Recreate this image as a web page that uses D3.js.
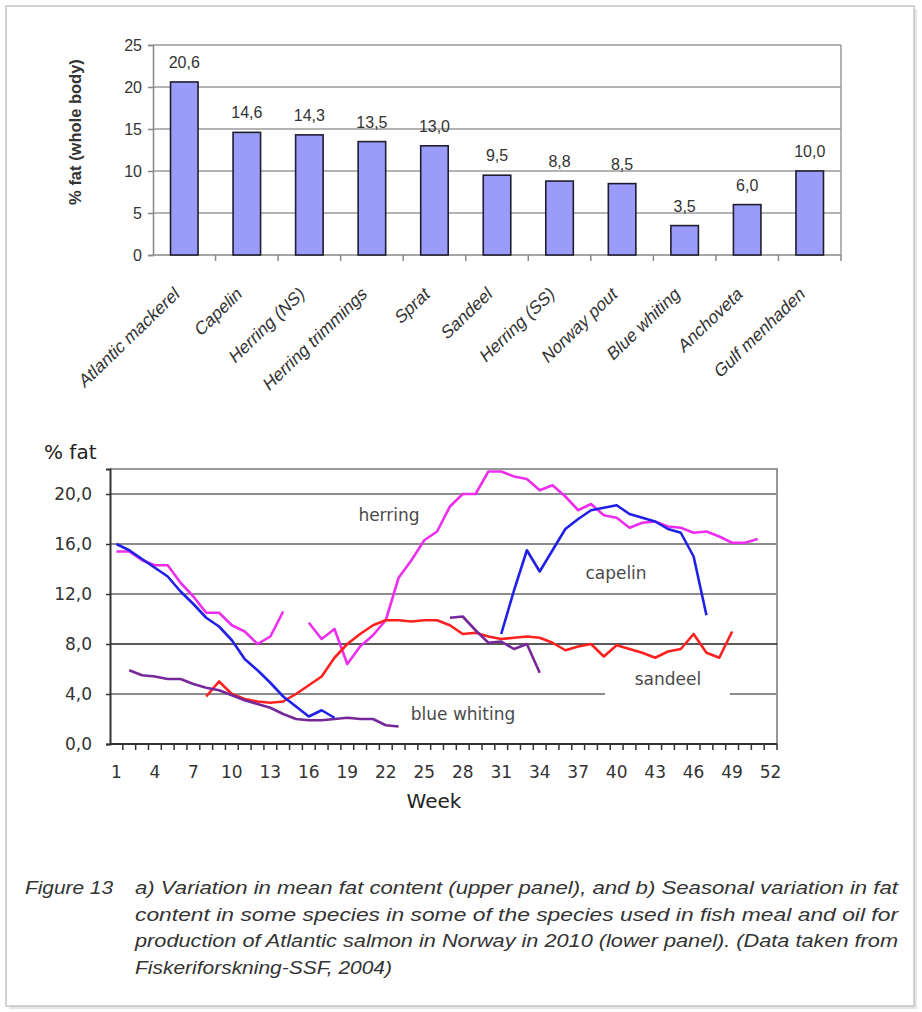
<!DOCTYPE html>
<html>
<head>
<meta charset="utf-8">
<script src="https://cdn.jsdelivr.net/npm/d3@7"></script>
<style>
  body { margin: 0; background: #fff; }
  svg { display: block; }
</style>
</head>
<body>
<div id="vis-container"></div>
<script>
// upper panel: mean fat content per species
const fishNames = ["Atlantic mackerel", "Capelin", "Herring (NS)", "Herring trimmings", "Sprat",
  "Sandeel", "Herring (SS)", "Norway pout", "Blue whiting", "Anchoveta", "Gulf menhaden"];
const fishFat = [20.6, 14.6, 14.3, 13.5, 13.0, 9.5, 8.8, 8.5, 3.5, 6.0, 10.0];
const fatTicks = [0, 5, 10, 15, 20, 25];

// lower panel: weekly fat content, null = no sample that week
const weeks = d3.range(1, 53);
const weekTicks = [1, 4, 7, 10, 13, 16, 19, 22, 25, 28, 31, 34, 37, 40, 43, 46, 49, 52];
const pctTicks = [0, 4, 8, 12, 16, 20];

const herring = [15.4, 15.4, 14.7, 14.3, 14.3, 12.9, 11.8, 10.5, 10.5, 9.5, 9.0, 8.0, 8.6, 10.6, null,
  9.7, 8.4, 9.2, 6.4, 7.8, 8.7, 9.9, 13.3, 14.7, 16.3, 17.0, 19.0, 20.0, 20.0, 21.8, 21.8, 21.4, 21.2,
  20.3, 20.7, 19.8, 18.7, 19.2, 18.3, 18.1, 17.3, 17.7, 17.8, 17.4, 17.3, 16.9, 17.0, 16.6, 16.1, 16.1, 16.4, null];
const capelin = [16.0, 15.5, 14.8, 14.1, 13.4, 12.2, 11.2, 10.1, 9.4, 8.3, 6.8, 5.9, 4.9, 3.8, 3.0, 2.2, 2.7, 2.1,
  null, null, null, null, null, null, null, null, null, null, null, null,
  8.8, 12.3, 15.5, 13.8, 15.5, 17.2, 18.0, 18.7, 18.9, 19.1, 18.4, 18.1, 17.8, 17.2, 16.9, 15.0, 10.3,
  null, null, null, null, null];
const sandeel = [null, null, null, null, null, null, null, 3.8, 5.0, 4.0, 3.6, 3.4, 3.3, 3.4, 4.0, 4.7, 5.4, 6.9,
  8.0, 8.8, 9.5, 9.9, 9.9, 9.8, 9.9, 9.9, 9.5, 8.8, 8.9, 8.6, 8.4, 8.5, 8.6, 8.5, 8.1, 7.5, 7.8, 8.0, 7.0,
  7.9, 7.6, 7.3, 6.9, 7.4, 7.6, 8.8, 7.3, 6.9, 9.0, null, null, null];
const blueWhiting = [null, 5.9, 5.5, 5.4, 5.2, 5.2, 4.8, 4.5, 4.3, 3.9, 3.5, 3.2, 2.9, 2.4, 2.0, 1.9, 1.9, 2.0,
  2.1, 2.0, 2.0, 1.5, 1.4, null, null, null, 10.1, 10.2, 9.1, 8.1, 8.2, 7.6, 8.0, 5.7,
  null, null, null, null, null, null, null, null, null, null, null, null, null, null, null, null, null, null];

const seriesNames = ["herring", "sandeel", "blue whiting", "capelin"];
const seriesValues = [herring, sandeel, blueWhiting, capelin];
const seriesColors = ["#ee2eee", "#ff2020", "#76289a", "#2020e8"];

const captionLines = [
  "a) Variation in mean fat content (upper panel), and b) Seasonal variation in fat",
  "content in some species in some of the species used in fish meal and oil  for",
  "production of Atlantic salmon in Norway  in 2010 (lower panel). (Data taken from",
  "Fiskeriforskning-SSF, 2004)"
];

const W = 922, H = 1012;
const fmt = d3.format(".1f");
const comma = v => fmt(v).replace(".", ",");

let svg = d3.select("#vis-container")
  .append("svg")
  .attr("width", W)
  .attr("height", H);

// page frame with a faint drop shadow
svg.append("rect")
  .attr("x", 9).attr("y", 9)
  .attr("width", 908).attr("height", 1000)
  .attr("fill", "#e6e6e6");
svg.append("rect")
  .attr("x", 6).attr("y", 6)
  .attr("width", 908).attr("height", 1000)
  .attr("fill", "#fff")
  .attr("stroke", "#c4c4c4")
  .attr("stroke-width", 1.5);

// ---------- upper panel ----------
let upper = {left: 153, right: 841, top: 45, bottom: 255};

let xBar = d3.scaleBand()
  .domain(fishNames)
  .range([upper.left, upper.right]);

let yBar = d3.scaleLinear()
  .domain([0, 25])
  .range([upper.bottom, upper.top]);

let g1 = svg.append("g");

// gridlines
g1.selectAll(".grid")
  .data(fatTicks.slice(1))
  .enter()
  .append("line")
    .attr("x1", upper.left).attr("x2", upper.right)
    .attr("y1", d => yBar(d)).attr("y2", d => yBar(d))
    .attr("stroke", "#9a9a9a")
    .attr("stroke-width", 1.5);

g1.append("line")
  .attr("x1", upper.right).attr("x2", upper.right)
  .attr("y1", upper.top).attr("y2", upper.bottom)
  .attr("stroke", "#9a9a9a")
  .attr("stroke-width", 1.5);

// y axis
let yAx1 = g1.append("g")
  .attr("transform", `translate(${upper.left},0)`)
  .call(d3.axisLeft(yBar).tickValues(fatTicks).tickSize(5).tickPadding(6).tickFormat(d3.format("d")));
yAx1.select(".domain").attr("stroke", "#888").attr("stroke-width", 1.5);
yAx1.selectAll(".tick line").attr("stroke", "#888").attr("stroke-width", 1.5);
yAx1.selectAll("text")
  .attr("font-family", "Liberation Sans, Arial, sans-serif")
  .attr("font-size", 16)
  .attr("fill", "#333");

// x axis, ticks between categories
g1.append("line")
  .attr("x1", upper.left).attr("x2", upper.right)
  .attr("y1", upper.bottom).attr("y2", upper.bottom)
  .attr("stroke", "#888")
  .attr("stroke-width", 1.5);
g1.selectAll(".xtick")
  .data(fishNames)
  .enter()
  .append("line")
    .attr("x1", d => xBar(d) + xBar.bandwidth()).attr("x2", d => xBar(d) + xBar.bandwidth())
    .attr("y1", upper.bottom).attr("y2", upper.bottom + 6)
    .attr("stroke", "#888")
    .attr("stroke-width", 1.5);

// bars
let barW = xBar.bandwidth() * 0.44;
g1.selectAll(".bar")
  .data(fishNames)
  .enter()
  .append("rect")
    .attr("x", d => xBar(d) + (xBar.bandwidth() - barW) / 2)
    .attr("y", (d, i) => yBar(fishFat[i]))
    .attr("width", barW)
    .attr("height", (d, i) => upper.bottom - yBar(fishFat[i]))
    .attr("fill", "#9b9bfa")
    .attr("stroke", "#1e1e2e")
    .attr("stroke-width", 1.6);

// value labels
g1.selectAll(".val")
  .data(fishNames)
  .enter()
  .append("text")
    .attr("x", d => xBar(d) + xBar.bandwidth() / 2)
    .attr("y", (d, i) => yBar(fishFat[i]) - 14)
    .attr("text-anchor", "middle")
    .attr("font-family", "Liberation Sans, Arial, sans-serif")
    .attr("font-size", 16)
    .attr("fill", "#333")
    .text((d, i) => comma(fishFat[i]));

// rotated category labels
g1.selectAll(".cat")
  .data(fishNames)
  .enter()
  .append("text")
    .attr("transform", d => `translate(${xBar(d) + xBar.bandwidth() / 2 - 4},${upper.bottom + 41}) rotate(-44) skewX(-12)`)
    .attr("text-anchor", "end")
    .attr("font-family", "Liberation Sans, Arial, sans-serif")
    .attr("font-size", 17.5)
    .attr("fill", "#333")
    .text(d => d);

g1.append("text")
  .attr("transform", `translate(81,132) rotate(-90)`)
  .attr("text-anchor", "middle")
  .attr("font-family", "Liberation Sans, Arial, sans-serif")
  .attr("font-size", 16.5)
  .attr("font-weight", "bold")
  .attr("fill", "#333")
  .text("% fat (whole body)");

// ---------- lower panel ----------
let lower = {left: 110, right: 777, top: 469, bottom: 744};

let xWeek = d3.scalePoint()
  .domain(weeks)
  .range([lower.left, lower.right])
  .padding(0.5);
let step = xWeek.step();

let yPct = d3.scaleLinear()
  .domain([0, 22])
  .range([lower.bottom, lower.top]);

let g2 = svg.append("g");

// plot frame (top + right)
g2.append("path")
  .attr("d", `M${lower.left},${lower.top}H${lower.right}V${lower.bottom}`)
  .attr("fill", "none")
  .attr("stroke", "#999")
  .attr("stroke-width", 2);

g2.selectAll(".grid")
  .data(pctTicks.slice(1))
  .enter()
  .append("line")
    .attr("x1", lower.left).attr("x2", lower.right)
    .attr("y1", d => yPct(d)).attr("y2", d => yPct(d))
    .attr("stroke", d => d === 8 ? "#222" : "#8c8c8c")
    .attr("stroke-width", d => d === 8 ? 1.5 : 2);

// y axis
let yAx2 = g2.append("g")
  .attr("transform", `translate(${lower.left},0)`)
  .call(d3.axisLeft(yPct).tickValues(pctTicks).tickSize(4).tickPadding(14).tickFormat(comma));
yAx2.select(".domain").attr("stroke", "#333").attr("stroke-width", 2);
yAx2.selectAll(".tick line").attr("stroke", "#333").attr("stroke-width", 1.5);
yAx2.selectAll("text")
  .attr("font-family", "DejaVu Sans, sans-serif")
  .attr("font-size", 17)
  .attr("fill", "#333");

// x axis: a tick at every week boundary, label every third week
let xAx = g2.append("g");
xAx.append("line")
  .attr("x1", lower.left).attr("x2", lower.right)
  .attr("y1", lower.bottom).attr("y2", lower.bottom)
  .attr("stroke", "#333")
  .attr("stroke-width", 2);
xAx.selectAll(".wtick")
  .data(weeks)
  .enter()
  .append("line")
    .attr("x1", d => xWeek(d) + step / 2).attr("x2", d => xWeek(d) + step / 2)
    .attr("y1", lower.bottom).attr("y2", lower.bottom + 6)
    .attr("stroke", "#333")
    .attr("stroke-width", 1.5);
xAx.selectAll(".wlab")
  .data(weekTicks)
  .enter()
  .append("text")
    .attr("x", d => xWeek(d))
    .attr("y", lower.bottom + 34)
    .attr("text-anchor", "middle")
    .attr("font-family", "DejaVu Sans, sans-serif")
    .attr("font-size", 17)
    .attr("fill", "#333")
    .text(d => d);

// white box behind the sandeel label cuts the 4,0 gridline
g2.append("rect")
  .attr("x", 605).attr("y", 662)
  .attr("width", 125).attr("height", 38)
  .attr("fill", "#fff");

// series lines
let line = d3.line()
  .defined(d => d[1] != null)
  .x(d => xWeek(d[0]))
  .y(d => yPct(d[1]));

seriesValues.forEach((vals, i) => {
  g2.append("path")
    .datum(weeks.map((w, j) => [w, vals[j]]))
    .attr("fill", "none")
    .attr("stroke", seriesColors[i])
    .attr("stroke-width", 2.6)
    .attr("stroke-linejoin", "round")
    .attr("d", line);
});

// series labels
let labelPos = {"herring": [389, 521], "capelin": [616, 579], "sandeel": [668, 685], "blue whiting": [463, 720]};
seriesNames.forEach(n => {
  g2.append("text")
    .attr("x", labelPos[n][0])
    .attr("y", labelPos[n][1])
    .attr("text-anchor", "middle")
    .attr("font-family", "DejaVu Sans, sans-serif")
    .attr("font-size", 17)
    .attr("fill", "#4a4a4a")
    .text(n);
});

g2.append("text")
  .attr("x", 44).attr("y", 459)
  .attr("font-family", "DejaVu Sans, sans-serif")
  .attr("font-size", 20)
  .attr("fill", "#222")
  .text("% fat");

g2.append("text")
  .attr("x", 434).attr("y", 808)
  .attr("text-anchor", "middle")
  .attr("font-family", "DejaVu Sans, sans-serif")
  .attr("font-size", 20)
  .attr("fill", "#222")
  .text("Week");

// ---------- caption ----------
let cap = svg.append("g")
  .attr("font-family", "Liberation Sans, Arial, sans-serif")
  .attr("font-style", "italic")
  .attr("font-size", 18.5)
  .attr("fill", "#333");

cap.append("text")
  .attr("x", 25).attr("y", 894)
  .attr("textLength", 88)
  .attr("lengthAdjust", "spacingAndGlyphs")
  .text("Figure 13");

let capWidths = [763, 763, 763, 257];
captionLines.forEach((t, i) => {
  cap.append("text")
    .attr("x", 135)
    .attr("y", 894 + i * 26.7)
    .attr("textLength", capWidths[i])
    .attr("lengthAdjust", "spacingAndGlyphs")
    .text(t);
});
</script>
</body>
</html>
